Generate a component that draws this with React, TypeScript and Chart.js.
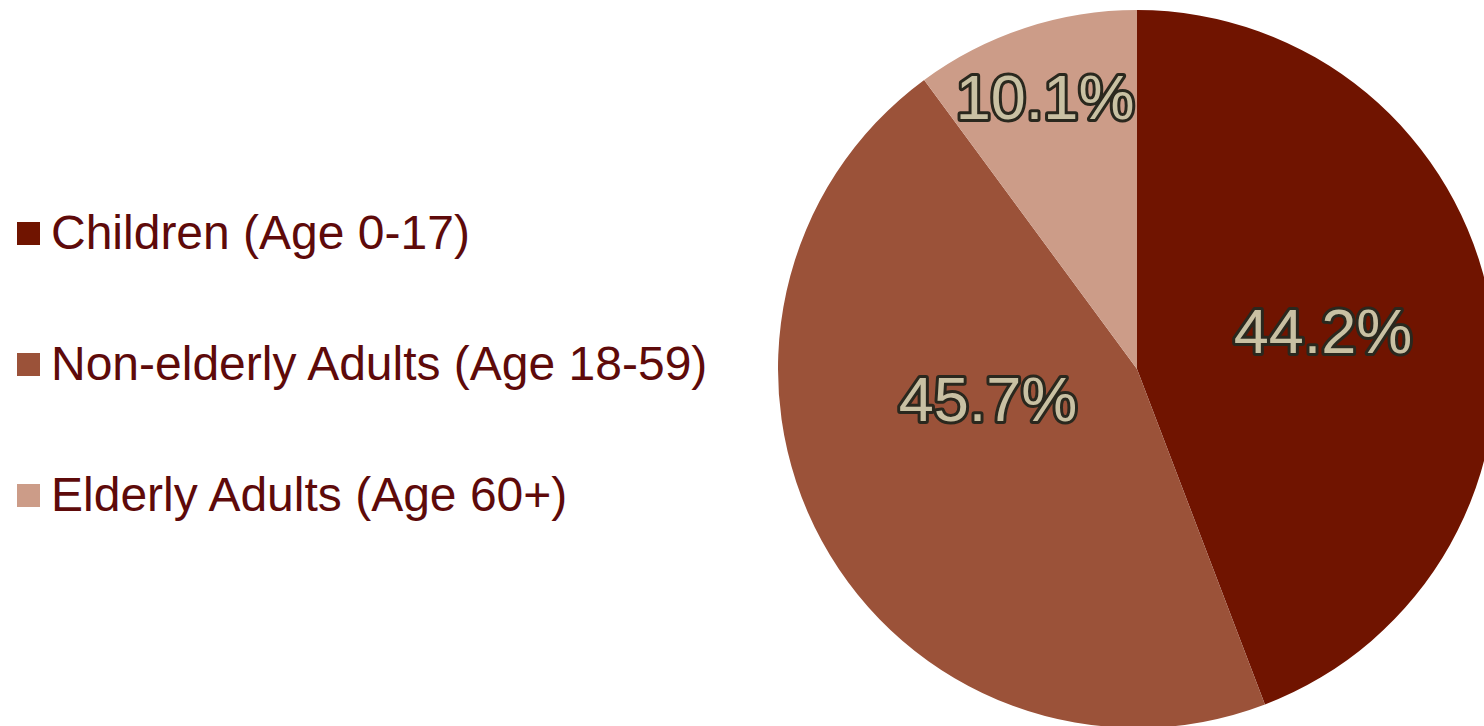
import React, { useEffect, useRef } from "react";
import { Chart, registerables } from "chart.js";

Chart.register(...registerables);

const categories = [
  "Children (Age 0-17)",
  "Non-elderly Adults (Age 18-59)",
  "Elderly Adults (Age 60+)",
];
const shares = [44.2, 45.7, 10.1];
const sliceColors = ["#701400", "#9B5239", "#CC9C88"];

// label anchor tweaks (fraction of radius, angular shift in degrees from slice middle)
const labelRadiusFrac = [0.526, 0.4265, 0.787];
const labelAngleShift = [0.4, 15.4, -0.8];

const FONT = '"Liberation Sans", Arial, Helvetica, sans-serif';

const pctLabelPlugin = {
  id: "pctLabels",
  afterDatasetsDraw(chart: any) {
    const ctx = chart.ctx;
    const meta = chart.getDatasetMeta(0);
    meta.data.forEach((arc: any, i: number) => {
      const p = arc.getProps(["x", "y", "startAngle", "endAngle", "outerRadius"], true);
      const mid = (p.startAngle + p.endAngle) / 2 + (labelAngleShift[i] * Math.PI) / 180;
      const r = p.outerRadius * labelRadiusFrac[i];
      const px = p.x + Math.cos(mid) * r;
      const py = p.y + Math.sin(mid) * r;
      const text = shares[i].toFixed(1) + "%";
      ctx.save();
      ctx.font = `63px ${FONT}`;
      ctx.textAlign = "center";
      ctx.textBaseline = "middle";
      ctx.lineJoin = "round";
      ctx.lineWidth = 6;
      ctx.strokeStyle = "#2A281E";
      ctx.strokeText(text, px, py);
      ctx.fillStyle = "#C9C1A3";
      ctx.fillText(text, px, py);
      ctx.restore();
    });
  },
};

export default function App() {
  const canvasRef = useRef<HTMLCanvasElement | null>(null);

  useEffect(() => {
    if (!canvasRef.current) return;
    const chart = new Chart(canvasRef.current, {
      type: "pie",
      data: {
        labels: categories,
        datasets: [
          {
            data: shares,
            backgroundColor: sliceColors,
            borderWidth: 0,
          },
        ],
      },
      options: {
        responsive: false,
        animation: false,
        events: [],
        radius: 359,
        layout: { padding: 0 },
        plugins: {
          legend: { display: false },
          tooltip: { enabled: false },
        },
      } as any,
      plugins: [pctLabelPlugin],
    });
    return () => chart.destroy();
  }, []);

  return (
    <div
      style={{
        position: "fixed",
        left: 0,
        top: 0,
        width: "100vw",
        height: "100vh",
        overflow: "hidden",
        background: "#ffffff",
      }}
    >
      <div
        style={{
          position: "absolute",
          left: 17,
          top: 205,
          display: "flex",
          flexDirection: "column",
          gap: 75,
          fontFamily: FONT,
          fontSize: 48,
          lineHeight: "56px",
          color: "#5E0A0A",
          whiteSpace: "nowrap",
        }}
      >
        {categories.map((c, i) => (
          <div key={c} style={{ display: "flex", alignItems: "center", height: 56 }}>
            <span
              style={{
                display: "inline-block",
                width: 23,
                height: 23,
                background: sliceColors[i],
                marginRight: 11,
                flex: "none",
              }}
            />
            <span>{c}</span>
          </div>
        ))}
      </div>
      <canvas
        ref={canvasRef}
        width={740}
        height={740}
        style={{ position: "absolute", left: 767, top: -1, width: 740, height: 740 }}
      />
    </div>
  );
}
